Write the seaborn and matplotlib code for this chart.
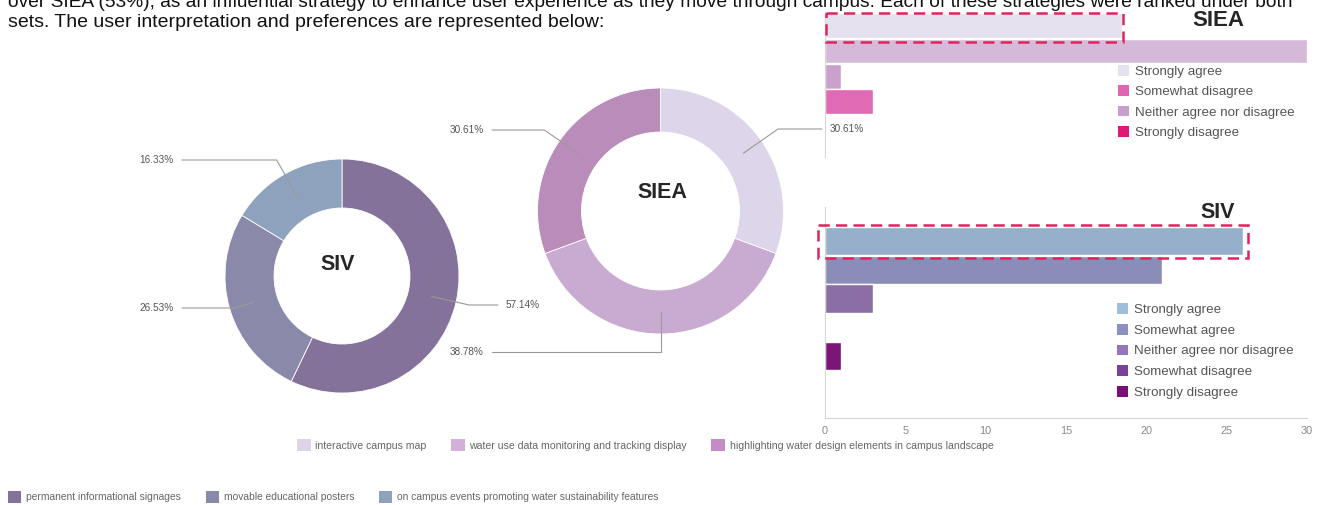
import numpy as np
import matplotlib.pyplot as plt
import seaborn as sns
from matplotlib.patches import Patch, Rectangle

sns.set_style('white')
plt.rcParams['font.family'] = ['Liberation Sans', 'DejaVu Sans']

W, H = 1320, 505

# donut data (shares in %)
siv_names = ['permanent informational signages', 'movable educational posters',
             'on campus events promoting water sustainability features']
siv_share = [57.14, 26.53, 16.33]
siv_colors = ['#85729b', '#8b89aa', '#8fa2bd']

siea_names = ['interactive campus map', 'water use data monitoring and tracking display',
              'highlighting water design elements in campus landscape']
siea_share = [30.61, 38.78, 30.61]
siea_colors = ['#ddd5e9', '#c9aad0', '#b98cba']
siea_key_colors = ['#dcd5ea', '#d2b0d9', '#c48cc4']

# agreement counts
levels = ['Strongly agree', 'Somewhat agree', 'Neither agree nor disagree',
          'Somewhat disagree', 'Strongly disagree']
siea_counts = [18.5, 30, 1, 3, 0]
siea_bar_colors = ['#e6e1ef', '#d5b9d9', '#c9a0cc', '#e06ab3', '#e0187a']
siea_legend_levels = ['Strongly agree', 'Somewhat disagree', 'Neither agree nor disagree', 'Strongly disagree']
siea_legend_colors = ['#e6e1ef', '#e066b0', '#c89fcc', '#e0187a']

siv_counts = [26, 21, 3, 0, 1]
siv_bar_colors = ['#96b0cc', '#8a8db8', '#8c6ea6', '#7d3f9c', '#7b1578']
siv_legend_colors = ['#a0bddb', '#8d90c2', '#9477b7', '#7d3f9c', '#7a0e78']

x_ticks = [0, 5, 10, 15, 20, 25, 30]

intro_1 = ('over SIEA (53%), as an influential strategy to enhance user experience as they move '
           'through campus. Each of these strategies were ranked under both')
intro_2 = 'sets. The user interpretation and preferences are represented below:'

fig = plt.figure(figsize=(W / 100, H / 100), dpi=100)


def px_axes(left, top, width, height, **kw):
    return fig.add_axes([left / W, 1 - (top + height) / H, width / W, height / H], **kw)


ov = px_axes(0, 0, W, H, zorder=10)
ov.set_xlim(0, W)
ov.set_ylim(H, 0)
ov.axis('off')

ov.text(8, 7, intro_1, fontsize=13.8, color='#111111', va='baseline')
ov.text(8, 27, intro_2, fontsize=14, color='#111111', va='baseline')


def donut(cx, cy, r_out, r_in, shares, colors):
    ax = px_axes(cx - r_out - 2, cy - r_out - 2, 2 * r_out + 4, 2 * r_out + 4)
    ax.pie(shares, colors=colors, startangle=90, counterclock=False, radius=1,
           wedgeprops=dict(width=1 - r_in / r_out, edgecolor='white', linewidth=0.6))
    k = (r_out + 2) / r_out
    ax.set_xlim(-k, k)
    ax.set_ylim(-k, k)
    ax.axis('off')
    frac = np.array(shares) / sum(shares)
    edges = np.concatenate([[0], np.cumsum(frac)])
    return 90 - 360 * (edges[:-1] + edges[1:]) / 2


def leader(cx, cy, r_mid, ang, ly, x_end, text, ha):
    t = np.radians(ang)
    px, py = cx + r_mid * np.cos(t), cy - r_mid * np.sin(t)
    ex = px + (py - ly) / np.sin(t) * np.cos(t)
    ov.plot([px, ex, x_end], [py, ly, ly], color='#9a9a9a', lw=0.8)
    tx = x_end + 8 if ha == 'left' else x_end - 8
    ov.text(tx, ly, text, ha=ha, va='center', fontsize=7.2, color='#555555')


# SIV donut
siv_cx, siv_cy = 342, 276
mids = donut(siv_cx, siv_cy, 117, 68, siv_share, siv_colors)
siv_lab = [(305, 498, 'left'), (308, 182, 'right'), (160, 182, 'right')]
for a, v, (ly, xe, ha) in zip(mids, siv_share, siv_lab):
    leader(siv_cx, siv_cy, 92, a, ly, xe, f'{v:.2f}%', ha)
ov.text(338, 265, 'SIV', fontsize=15.5, fontweight='bold', ha='center', va='center')

# SIEA donut
siea_cx, siea_cy = 660.5, 211
mids = donut(siea_cx, siea_cy, 123, 79, siea_share, siea_colors)
siea_lab = [(129, 822, 'left'), (352, 492, 'right'), (130, 492, 'right')]
for a, v, (ly, xe, ha) in zip(mids, siea_share, siea_lab):
    leader(siea_cx, siea_cy, 101, a, ly, xe, f'{v:.2f}%', ha)
ov.text(662, 193, 'SIEA', fontsize=15.5, fontweight='bold', ha='center', va='center')


def bars(ax, counts, colors):
    sns.barplot(x=counts, y=levels, hue=levels, palette=colors, orient='h',
                width=0.98, saturation=1, legend=False, ax=ax)
    ax.set_xlim(0, 30)
    ax.set_xlabel('')
    ax.set_ylabel('')
    ax.set_yticks([])
    for s in ['top', 'right', 'bottom']:
        ax.spines[s].set_visible(False)
    ax.spines['left'].set_color('#d5d5d5')
    ax.patch.set_alpha(0)


# SIEA agreement bars
ax1 = px_axes(825, 12, 482, 145)
bars(ax1, siea_counts, siea_bar_colors)
ax1.set_ylim(5.16, -0.53)
ax1.set_xticks([])
ax1.add_patch(Rectangle((0.05, -0.5), siea_counts[0], 1.15, fill=False, ec='#e0245e',
                        lw=1.8, ls=(0, (4.5, 2.5)), clip_on=False, zorder=5))
ax1.legend([Patch(fc=c, ec='none') for c in siea_legend_colors], siea_legend_levels,
           loc='center left', bbox_to_anchor=(1118 / W, 1 - 102 / H), bbox_transform=fig.transFigure,
           frameon=False, fontsize=9.6, labelcolor='#555555', handlelength=0.85, handleheight=0.85,
           handletextpad=0.45, labelspacing=0.56, borderpad=0, borderaxespad=0)

# SIV agreement bars
ax2 = px_axes(825, 207, 482, 211)
bars(ax2, siv_counts, siv_bar_colors)
ax2.set_ylim(6.16, -1.18)
ax2.spines['bottom'].set_visible(True)
ax2.spines['bottom'].set_color('#d5d5d5')
ax2.set_xticks(x_ticks)
ax2.tick_params(axis='x', length=4, color='#cccccc', labelcolor='#888888', labelsize=7.8, pad=2)
ax2.add_patch(Rectangle((-0.45, -0.56), siv_counts[0] + 0.75, 1.15, fill=False, ec='#e0245e',
                        lw=1.8, ls=(0, (4.5, 2.5)), clip_on=False, zorder=5))
ax2.legend([Patch(fc=c, ec='none') for c in siv_legend_colors], levels,
           loc='center left', bbox_to_anchor=(1117 / W, 1 - 351 / H), bbox_transform=fig.transFigure,
           frameon=False, fontsize=9.6, labelcolor='#555555', handlelength=0.85, handleheight=0.85,
           handletextpad=0.45, labelspacing=0.58, borderpad=0, borderaxespad=0)

ov.text(1218, 21, 'SIEA', fontsize=16, fontweight='bold', ha='center', va='center')
ov.text(1218, 212, 'SIV', fontsize=15.5, fontweight='bold', ha='center', va='center')

# legends under the donuts
fig.legend([Patch(fc=c, ec='none') for c in siea_key_colors], siea_names, ncol=3,
           loc='center left', bbox_to_anchor=(297 / W, 1 - 445 / H), frameon=False,
           fontsize=7.6, labelcolor='#666666', handlelength=1.3, handleheight=1.3,
           handletextpad=0.45, columnspacing=2.3, borderpad=0, borderaxespad=0)
fig.legend([Patch(fc=c, ec='none') for c in siv_colors], siv_names, ncol=3,
           loc='center left', bbox_to_anchor=(8 / W, 1 - 497 / H), frameon=False,
           fontsize=7.4, labelcolor='#666666', handlelength=1.3, handleheight=1.3,
           handletextpad=0.45, columnspacing=2.4, borderpad=0, borderaxespad=0)

fig.savefig('out.png', dpi=100)
